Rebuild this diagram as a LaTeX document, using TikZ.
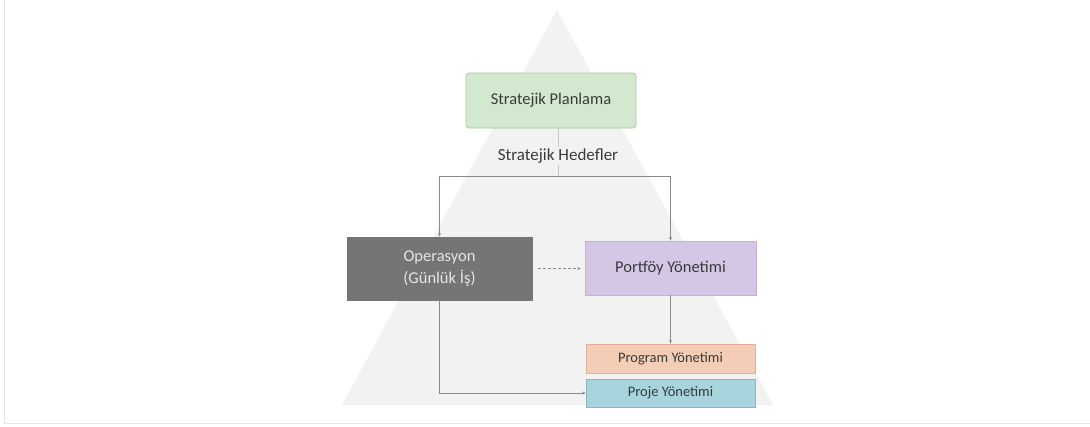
\documentclass[tikz,border=0pt]{standalone}
\usepackage{fontspec}
\setmainfont{Carlito}
\usetikzlibrary{arrows.meta}
\definecolor{pyramid}{HTML}{F2F2F2}
\definecolor{framegrey}{HTML}{E4E4E4}
\definecolor{linegrey}{HTML}{8A8A8A}
\definecolor{faintgrey}{HTML}{C8C8C8}
\definecolor{textdark}{HTML}{3A3A3A}
\definecolor{planfill}{HTML}{D3E9CF}
\definecolor{planline}{HTML}{A9C8A0}
\definecolor{opfill}{HTML}{767575}
\definecolor{optext}{HTML}{E6E6E6}
\definecolor{pffill}{HTML}{D4C7E5}
\definecolor{pfline}{HTML}{C2B3D9}
\definecolor{progfill}{HTML}{F4CDB6}
\definecolor{progline}{HTML}{E0B196}
\definecolor{projfill}{HTML}{A8D4DE}
\definecolor{projline}{HTML}{88B7C3}
\begin{document}
\begin{tikzpicture}[x=1pt,y=-1pt,
  box/.style={draw, line width=0.7pt, inner sep=0pt, align=center, text=textdark},
  bigtext/.style={font=\fontsize{16.5}{22}\selectfont},
  smalltext/.style={font=\fontsize{14.5}{18}\selectfont},
  conn/.style={draw=linegrey, line width=0.9pt},
  tip/.style={-{Stealth[length=3.5pt,width=3pt]}}]
\useasboundingbox (0,0) rectangle (1090,426);
\fill[white] (0,0) rectangle (1090,426);
% page frame
\draw[framegrey, line width=1pt] (4.5,0) -- (4.5,423) -- (1090,423);
% background pyramid
\fill[pyramid] (557,10) -- (773,405) -- (342,405) -- cycle;

% boxes
\node[box, bigtext, rounded corners=3pt, fill=planfill, draw=planline,
      minimum width=170pt, minimum height=55pt] (plan) at (551,100.5) {Stratejik Planlama};
\node[box, bigtext, fill=opfill, draw=opfill, text=optext,
      minimum width=185pt, minimum height=63pt] (op) at (439.5,268.5) {Operasyon\\(Günlük İş)};
\node[box, bigtext, fill=pffill, draw=pfline,
      minimum width=171pt, minimum height=54pt] (pf) at (670.5,268) {Portföy Yönetimi};
\node[box, smalltext, fill=progfill, draw=progline,
      minimum width=169pt, minimum height=29pt] (prog) at (670.5,358.5) {Program Yönetimi};
\node[box, smalltext, fill=projfill, draw=projline,
      minimum width=169pt, minimum height=28pt] (proj) at (670.5,393) {Proje Yönetimi};

% connectors
\coordinate (hl) at (439.5,176);
\coordinate (hr) at (670.5,176);
\coordinate (hm) at (558,176);
\draw[conn, draw=faintgrey] (plan.south -| hm) -- (hm)
  node[pos=0.58, fill=pyramid, inner sep=2pt, text=textdark,
       font=\fontsize{17}{20}\selectfont] (goal) {Stratejik Hedefler};
\draw[conn] (hl) -- (hr);
\draw[conn, tip] (hl) -- (op.north);
\draw[conn, tip] (hr) -- (pf.north);
\draw[conn, tip, dash pattern=on 3pt off 2pt, shorten <=6pt, shorten >=4pt] (op.east) -- (op.east -| pf.west);
\draw[conn, tip] (pf.south) -- (prog.north);
\draw[conn, tip] (op.south) |- (proj.west);
\end{tikzpicture}
\end{document}
